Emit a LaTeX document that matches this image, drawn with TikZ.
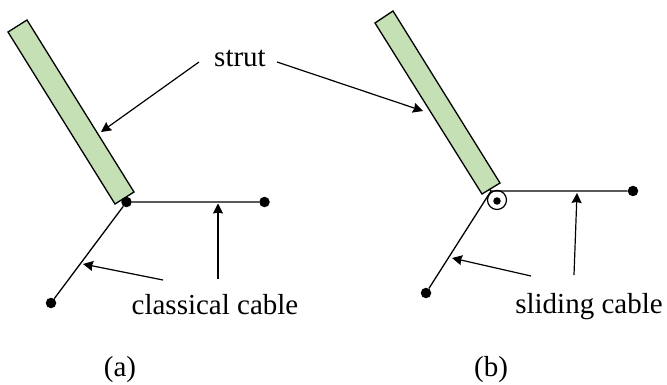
\documentclass[tikz,border=0pt]{standalone}
\usepackage{fontspec}
\setmainfont{Liberation Serif}
\usetikzlibrary{arrows.meta}
\definecolor{gr}{RGB}{197,224,180}
\tikzset{
  strutbar/.style={draw=black,fill=gr,line width=1.3pt,line join=miter},
  cablewire/.style={line width=1.3pt},
  arr/.style={line width=1.2pt,-{Stealth[length=10pt,width=10pt,inset=1pt]}},
  lbl/.style={font=\fontsize{29pt}{32pt}\selectfont,inner sep=0pt,anchor=base},
  dotn/.style={circle,fill=black,inner sep=0pt,minimum size=10.5pt},
  smalldot/.style={circle,fill=black,inner sep=0pt,minimum size=7.5pt},
  ringn/.style={circle,draw,line width=1.2pt,minimum size=19pt,inner sep=0pt}
}
\begin{document}
\begin{tikzpicture}[x=1pt,y=-1pt]
\useasboundingbox (0,0) rectangle (667,385);
\draw[strutbar] (8,32)--(27,20)--(134,192)--(115,204)--cycle;
\draw[strutbar] (375,23)--(393,11)--(500,183)--(482,194)--cycle;
\node[dotn] (a0) at (126.5,202) {};
\node[dotn] (a1) at (264.5,202) {};
\node[dotn] (a2) at (51,303) {};
\draw[cablewire] (a1)--(a0)--(a2);
\node[smalldot] (b0) at (497,201) {};
\node[dotn] (b1) at (633,191) {};
\node[dotn] (b2) at (426,293) {};
\node[ringn] (ring) at (497,200) {};
\coordinate (bt) at (491,191);
\coordinate (bs) at (489,189);
\draw[cablewire] (b1)--(bt)--(b2);
\draw[cablewire] (bs)--(bt);
\node[lbl] (strut) at (240,67) {strut};
\node[lbl] (cc) at (215,314) {classical cable};
\node[lbl] (sc) at (589,313) {sliding cable};
\node[lbl] (la) at (120,376) {(a)};
\node[lbl] (lb) at (491,376) {(b)};
\coordinate (s1s) at (199,62); \coordinate (s1e) at (101,132);
\coordinate (s2s) at (277,62); \coordinate (s2e) at (423,111);
\draw[arr] (s1s)--(s1e);
\draw[arr] (s2s)--(s2e);
\coordinate (c1s) at (163,280); \coordinate (c1e) at (83,264);
\coordinate (c2s) at (218,279); \coordinate (c2e) at (218,203.5);
\draw[arr] (c1s)--(c1e);
\draw[arr] (c2s)--(c2e);
\coordinate (d1s) at (531,276); \coordinate (d1e) at (452,258);
\coordinate (d2s) at (574,275); \coordinate (d2e) at (577,193);
\draw[arr] (d1s)--(d1e);
\draw[arr] (d2s)--(d2e);
\end{tikzpicture}
\end{document}
